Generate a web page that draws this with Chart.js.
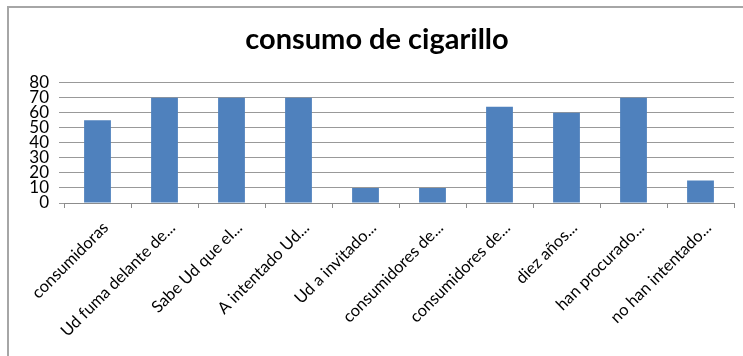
<!DOCTYPE html>
<html>
<head>
<meta charset="utf-8">
<script src="https://cdn.jsdelivr.net/npm/chart.js@4/dist/chart.umd.min.js"></script>
<style>
  html, body { margin: 0; padding: 0; background: #fff; }
  #frame {
    position: absolute; left: 7px; top: 6px; width: 740px; height: 360px;
    border-top: 2px solid #a6a6a6; border-left: 2px solid #a6a6a6;
  }
  #wrap { position: absolute; left: 0; top: 0; width: 743px; height: 356px; }
</style>
</head>
<body>
<div id="frame"></div>
<div id="wrap"><canvas id="cigarillo"></canvas></div>
<script>
const categories = [
    'consumidoras',
    'Ud fuma delante de...',
    'Sabe Ud que el...',
    'A intentado Ud...',
    'Ud a invitado...',
    'consumidores de...',
    'consumidores de...',
    'diez años...',
    'han procurado...',
    'no han intentado...'
];
const values = [55, 70, 70, 70, 10, 10, 64, 60, 70, 15];
const yTicks = [0, 10, 20, 30, 40, 50, 60, 70, 80];

const gridColor = '#999999';

new Chart(document.getElementById('cigarillo'), {
    type: 'bar',
    data: {
        labels: categories,
        datasets: [{
            label: 'consumo',
            data: values,
            backgroundColor: '#4F81BD',
            barPercentage: 0.4,
            categoryPercentage: 1.0
        }]
    },
    options: {
        responsive: true,
        maintainAspectRatio: false,
        animation: false,
        // left padding + y axis width puts the plot at x=64
        layout: { padding: { left: 20, right: 9, top: 0, bottom: 0 } },
        plugins: {
            legend: { display: false },
            tooltip: { enabled: false },
            title: {
                display: true,
                text: 'consumo de cigarillo',
                color: '#000',
                font: { family: 'Lato', size: 29, weight: 'bold', lineHeight: 1.2 },
                padding: { top: 22, bottom: 26 }
            }
        },
        scales: {
            x: {
                grid: {
                    drawOnChartArea: false,
                    drawTicks: true,
                    tickLength: 5,
                    color: '#8c8c8c'
                },
                border: { color: '#8c8c8c' },
                ticks: {
                    color: '#000',
                    font: { family: 'Lato', size: 16.5 },
                    minRotation: 45,
                    maxRotation: 45,
                    autoSkip: false,
                    padding: 10,
                    labelOffset: 8
                },
                afterFit: s => { s.height = 153; }
            },
            y: {
                min: 0,
                max: 80,
                afterBuildTicks: s => { s.ticks = yTicks.map(v => ({ value: v })); },
                grid: { color: gridColor, tickLength: 5 },
                border: { display: false },
                ticks: {
                    color: '#000',
                    font: { family: 'Lato', size: 17 },
                    padding: 10,
                    autoSkip: false
                },
                afterFit: s => { s.width = 44; }
            }
        }
    }
});
</script>
</body>
</html>
